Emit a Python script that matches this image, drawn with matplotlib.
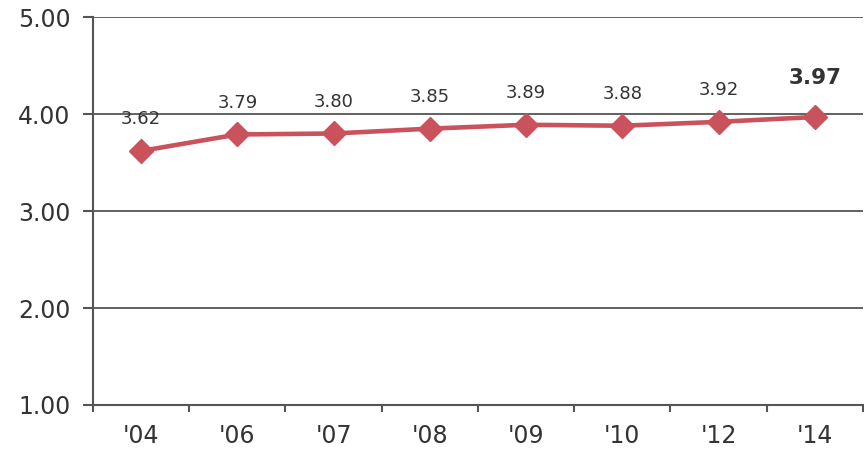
import matplotlib.pyplot as plt
import numpy as np

years = ["'04", "'06", "'07", "'08", "'09", "'10", "'12", "'14"]
scores = [3.62, 3.79, 3.80, 3.85, 3.89, 3.88, 3.92, 3.97]
y_ticks = [1.0, 2.0, 3.0, 4.0, 5.0]

plt.rcParams['font.family'] = ['DejaVu Sans']

fig = plt.figure(figsize=(8.64, 4.51), dpi=100)
ax = fig.add_axes([0.1076, 0.102, 0.8912, 0.860])

x = np.arange(len(years))
ax.plot(x, scores, color='#c9525c', linewidth=3.3, marker='D', markersize=12,
        markerfacecolor='#c9525c', markeredgecolor='#c9525c', zorder=3)

for i, v in enumerate(scores):
    last = i == len(scores) - 1
    ax.annotate(f'{v:.2f}', (x[i], v), xytext=(0, 28 if last else 23),
                textcoords='offset points', ha='center', va='center',
                fontsize=15.5 if last else 13, color='#333333',
                fontweight='bold' if last else 'normal')

ax.set_xlim(-0.5, len(years) - 0.5)
ax.set_ylim(1, 5)
ax.set_yticks(y_ticks)
ax.set_yticklabels([f'{t:.2f}' for t in y_ticks], fontsize=17, color='#333333')
ax.set_xticks(x)
ax.set_xticklabels(years, fontsize=17, color='#333333')
ax.set_xticks(np.arange(-0.5, len(years)), minor=True)
ax.tick_params(axis='x', which='major', length=0, pad=14)
ax.tick_params(axis='x', which='minor', length=5, width=1.5, color='#555555')
ax.tick_params(axis='y', length=7, width=1.5, color='#555555', pad=9)

ax.grid(True, axis='y', color='#555555', linewidth=1.3)
ax.set_axisbelow(True)
for s in ['top', 'right']:
    ax.spines[s].set_visible(False)
for s in ['left', 'bottom']:
    ax.spines[s].set_color('#555555')
    ax.spines[s].set_linewidth(1.5)

fig.savefig('out.png', dpi=100)
